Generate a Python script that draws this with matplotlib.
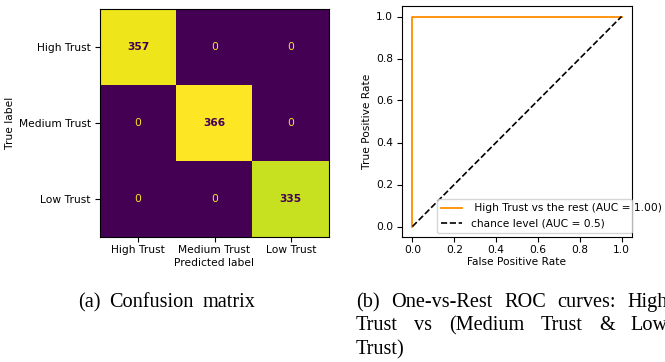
import numpy as np
import matplotlib
matplotlib.use("Agg")
import matplotlib.pyplot as plt

# Confusion matrix counts (rows: true label, cols: predicted label)
class_labels = ["High Trust", "Medium Trust", "Low Trust"]
cm_row_high = [357, 0, 0]
cm_row_medium = [0, 366, 0]
cm_row_low = [0, 0, 335]

# One-vs-rest ROC curve for the "High Trust" class
roc_fpr = [0.0, 0.0, 1.0]
roc_tpr = [0.0, 1.0, 1.0]
chance_fpr = [0.0, 1.0]
chance_tpr = [0.0, 1.0]
chance_auc = 0.5

caption_a = "(a) Confusion matrix"
caption_b_lines = ["(b) One-vs-Rest ROC curves: High",
                   "Trust vs (Medium Trust & Low",
                   "Trust)"]

W, H = 665, 362
FS = 7.7
fig = plt.figure(figsize=(W / 100, H / 100), dpi=100)
plt.rcParams["font.size"] = FS


def box(x0, y0, x1, y1):
    """Axes rectangle from pixel edges (y measured from the top)."""
    return [x0 / W, 1 - y1 / H, (x1 - x0) / W, (y1 - y0) / H]


# ---- (a) confusion matrix ----
cm = np.array([cm_row_high, cm_row_medium, cm_row_low])
ax1 = fig.add_axes(box(100, 9, 329, 237))
cmap = plt.get_cmap("viridis")
ax1.imshow(cm, cmap=cmap, interpolation="nearest", aspect="auto")
thresh = (cm.max() + cm.min()) / 2.0
for i in range(cm.shape[0]):
    for j in range(cm.shape[1]):
        v = cm[i, j]
        high = v > thresh
        ax1.text(j, i, f"{v}", ha="center", va="center",
                 color=cmap(0.0) if high else cmap(1.0),
                 fontweight="bold" if high else "normal", fontsize=FS)
n = len(class_labels)
ax1.set_xticks(range(n))
ax1.set_xticklabels(class_labels)
ax1.set_yticks(range(n))
ax1.set_yticklabels(class_labels)
ax1.set_xlabel("Predicted label", labelpad=2.5)
ax1.set_ylabel("True label", labelpad=3)
ax1.tick_params(labelsize=FS, length=3.5, pad=3)
ax1.tick_params(axis="x", pad=2)

# ---- (b) ROC curve ----
roc_auc = np.trapezoid(roc_tpr, roc_fpr)
ax2 = fig.add_axes(box(402, 6, 632, 237))
ax2.plot(roc_fpr, roc_tpr, color="darkorange", lw=1.3,
         label=f" High Trust vs the rest (AUC = {roc_auc:.2f})")
ax2.plot(chance_fpr, chance_tpr, "k--", lw=1.2,
         label=f"chance level (AUC = {chance_auc})")
ax2.set_xlabel("False Positive Rate", labelpad=2)
ax2.set_ylabel("True Positive Rate", labelpad=3)
ticks = np.linspace(0, 1, 6)
ax2.set_xticks(ticks)
ax2.set_yticks(ticks)
ax2.tick_params(labelsize=FS, length=3.5, pad=3)
ax2.tick_params(axis="x", pad=2)
ax2.set_xlim(-0.05, 1.05)
ax2.set_ylim(-0.05, 1.05)
ax2.legend(loc="lower left", bbox_to_anchor=(0.151, 0.017, 0.848, 0.15),
           mode="expand", borderaxespad=0, fontsize=FS,
           handlelength=2.0, fancybox=True)

# ---- captions (serif, justified like a two-column paper) ----
serif = "Liberation Serif"
cap_size = 14.6
renderer = fig.canvas.get_renderer()


def words_line(words, x_left, baseline, gap=None, right=None):
    texts = [fig.text(0, 1 - baseline / H, w, family=serif,
                      fontsize=cap_size, ha="left", va="baseline")
             for w in words]
    widths = [t.get_window_extent(renderer).width for t in texts]
    if right is not None and len(words) > 1:
        gap = (right - x_left - sum(widths)) / (len(words) - 1)
    x = x_left
    for t, w in zip(texts, widths):
        t.set_x(x / W)
        x += w + gap


words_line(caption_a.split(), 78, 307, gap=9)
baselines = [307, 330.5, 354]
for k, line in enumerate(caption_b_lines):
    last = k == len(caption_b_lines) - 1
    words_line(line.split(), 356, baselines[k],
               gap=5.5 if last else None, right=None if last else 668)

fig.savefig("out.png", dpi=100)
